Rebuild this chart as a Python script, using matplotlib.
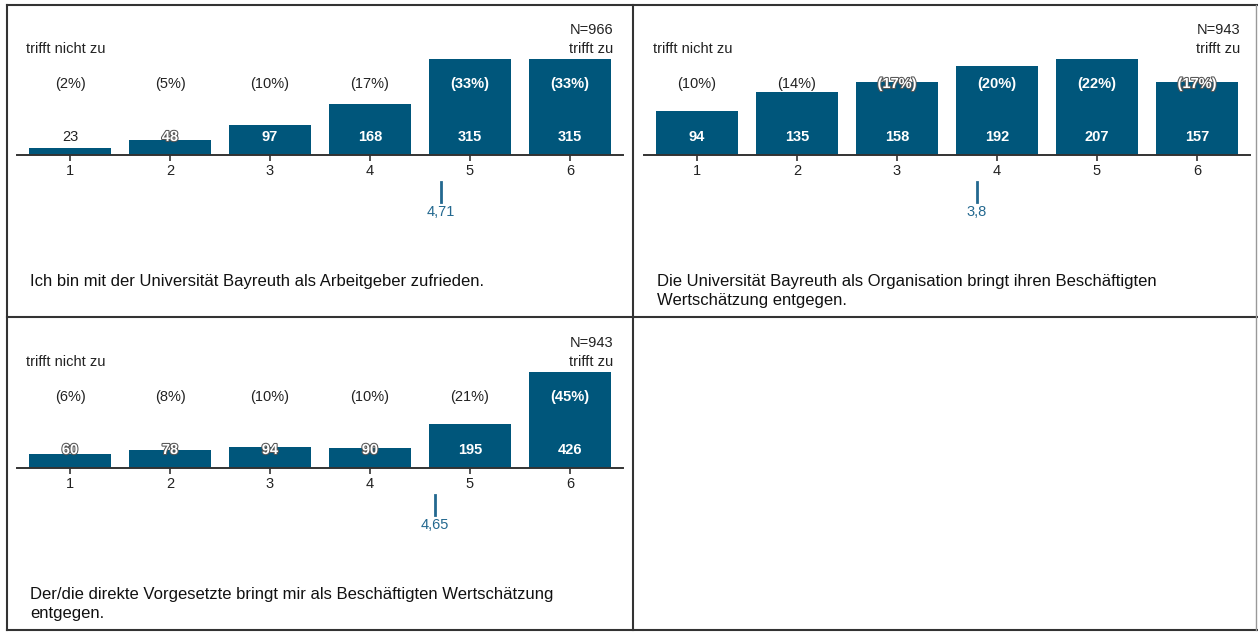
import matplotlib
matplotlib.use('Agg')
import matplotlib.pyplot as plt
import matplotlib.patheffects as pe
from matplotlib.lines import Line2D
import numpy as np

plt.rcParams['font.family'] = ['Liberation Sans', 'DejaVu Sans']

categories = [1, 2, 3, 4, 5, 6]
counts_1 = [23, 48, 97, 168, 315, 315]
pct_1 = [2, 5, 10, 17, 33, 33]
counts_2 = [94, 135, 158, 192, 207, 157]
pct_2 = [10, 14, 17, 20, 22, 17]
counts_3 = [60, 78, 94, 90, 195, 426]
pct_3 = [6, 8, 10, 10, 21, 45]
n_values = [966, 943, 943]
means = [4.71, 3.8, 4.65]
mean_labels = ['4,71', '3,8', '4,65']
questions = [
    'Ich bin mit der Universität Bayreuth als Arbeitgeber zufrieden.',
    'Die Universität Bayreuth als Organisation bringt ihren Beschäftigten\nWertschätzung entgegen.',
    'Der/die direkte Vorgesetzte bringt mir als Beschäftigten Wertschätzung\nentgegen.',
]

W, H = 1258, 635
bar_color = '#00567b'
mean_color = '#23688f'
text_dark = '#222222'
fs = 10.5

fig = plt.figure(figsize=(W / 100, H / 100), dpi=100)


def fx(px):
    return px / W


def fy(py):
    return 1 - py / H


# panel origin offsets (pixels) for panels 1..3
offsets = [(0, 0), (627, 0), (0, 313)]
data = [(counts_1, pct_1), (counts_2, pct_2), (counts_3, pct_3)]

ax_h = 135  # pixel height of the axes above baseline
bar_px = 96  # pixel height of tallest bar

for i, ((counts, pcts), (ox, oy)) in enumerate(zip(data, offsets)):
    left, right = 17 + ox, 623 + ox
    base = 155 + oy
    ax = fig.add_axes([fx(left), fy(base), fx(right - left), ax_h / H])
    ymax = max(counts) * ax_h / bar_px
    ax.bar(categories, counts, width=0.82, color=bar_color, zorder=2)
    ax.set_xlim(0.47, 6.53)
    ax.set_ylim(0, ymax)
    for s in ['top', 'right', 'left']:
        ax.spines[s].set_visible(False)
    ax.spines['bottom'].set_linewidth(1.4)
    ax.spines['bottom'].set_color('#333333')
    ax.set_yticks([])
    ax.set_xticks(categories)
    ax.tick_params(axis='x', direction='inout', length=9, width=1.2,
                   color='#333333', labelsize=fs, pad=2, labelcolor=text_dark)

    pct_y = 71 / ax_h
    cnt_y = 18 / ax_h
    for c, v, p in zip(categories, counts, pcts):
        top = v / ymax
        for txt, yy in [(f'({p}%)', pct_y), (str(v), cnt_y)]:
            half = 5 / ax_h
            if top > yy + half:
                kw = dict(color='white', fontweight='bold')
            elif top < yy - half:
                kw = dict(color=text_dark)
            else:
                kw = dict(color='white', fontweight='bold',
                          path_effects=[pe.withStroke(linewidth=1.5, foreground='#555555')])
            ax.text(c, yy, txt, transform=ax.get_xaxis_transform(),
                    ha='center', va='center', fontsize=fs, zorder=3, **kw)

    # mean marker
    m = means[i]
    ax.plot([m, m], [-27 / ax_h, -47 / ax_h], color=mean_color, lw=2,
            transform=ax.get_xaxis_transform(), clip_on=False)
    ax.text(m, -57 / ax_h, mean_labels[i], transform=ax.get_xaxis_transform(),
            ha='center', va='center', fontsize=fs, color=mean_color)

    # header labels
    fig.text(fx(26 + ox), fy(49 + oy), 'trifft nicht zu', ha='left', va='center',
             fontsize=fs, color=text_dark)
    fig.text(fx(613 + ox), fy(49 + oy), 'trifft zu', ha='right', va='center',
             fontsize=fs, color=text_dark)
    fig.text(fx(613 + ox), fy(30 + oy), f'N={n_values[i]}', ha='right', va='center',
             fontsize=fs, color=text_dark)

    # question text
    fig.text(fx(30 + ox), fy(274 + oy), questions[i], ha='left', va='top',
             fontsize=12, color='#111111', linespacing=1.3)

# table borders
border = dict(color='#333333', lw=1.5, transform=fig.transFigure)
fig.add_artist(Line2D([fx(7), fx(1258)], [fy(5), fy(5)], **border))
fig.add_artist(Line2D([fx(7), fx(1258)], [fy(317), fy(317)], **border))
fig.add_artist(Line2D([fx(7), fx(1258)], [fy(630), fy(630)], **border))
fig.add_artist(Line2D([fx(7), fx(7)], [fy(5), fy(630)], **border))
fig.add_artist(Line2D([fx(633), fx(633)], [fy(5), fy(630)], **border))
fig.add_artist(Line2D([fx(1256), fx(1256)], [fy(5), fy(630)], color='#999999', lw=1,
                      transform=fig.transFigure))

fig.savefig('out.png', dpi=100)
